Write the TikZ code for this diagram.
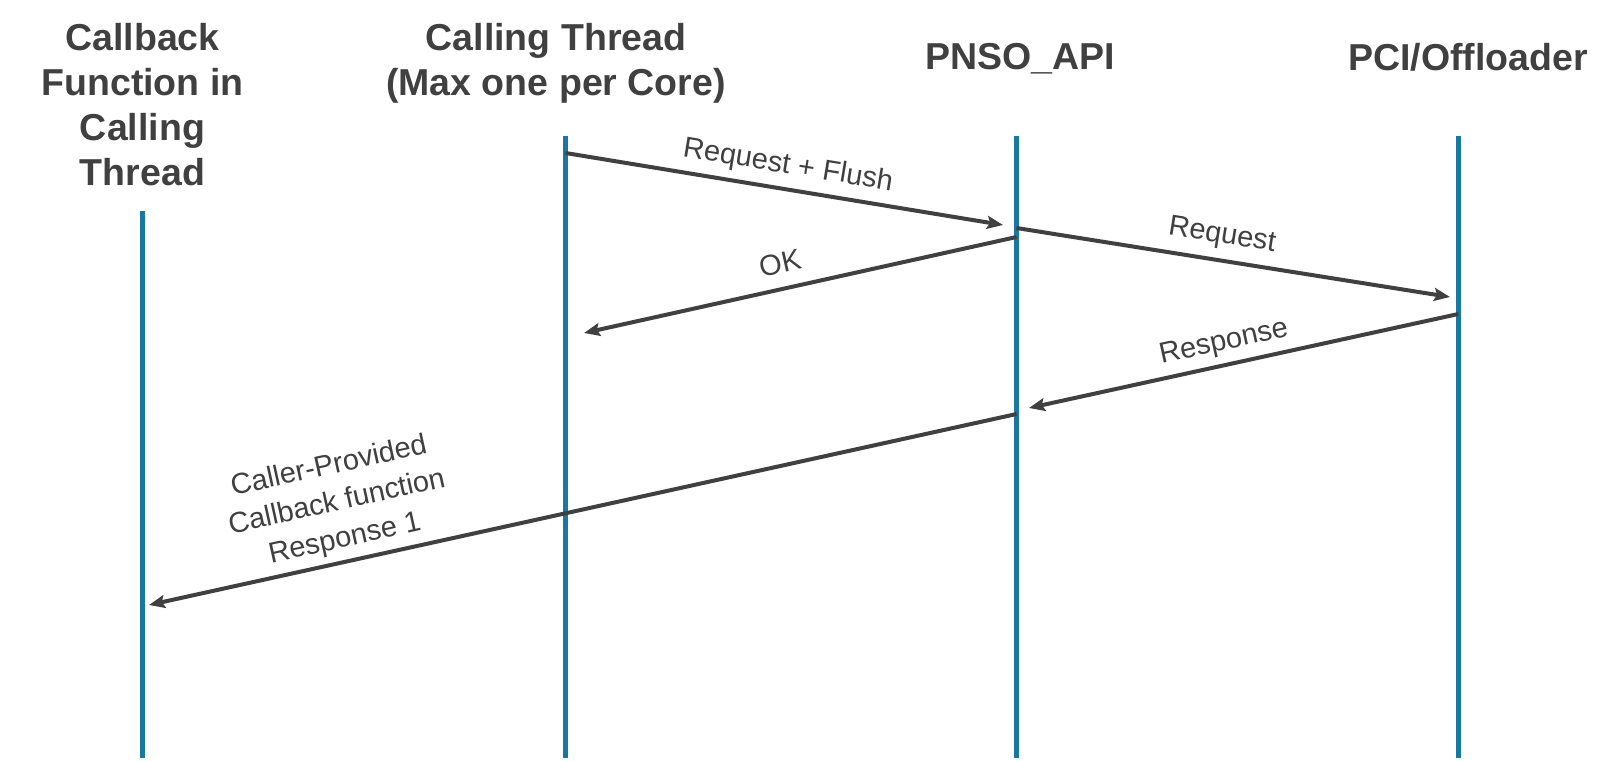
\documentclass[tikz,border=0pt]{standalone}
\usepackage{fontspec}
\setmainfont{Liberation Sans}
\usetikzlibrary{arrows.meta}
\definecolor{lifeblue}{HTML}{1A76A3}
\definecolor{inkgray}{HTML}{404040}
\begin{document}
\begin{tikzpicture}[x=1pt,y=-1pt,
  lifeline/.style={draw=lifeblue,line width=5pt},
  msg/.style={draw=inkgray,line width=4pt,-{Stealth[length=16pt,width=13pt,inset=3pt]}},
  hdr/.style={font=\bfseries\fontsize{37.5}{45}\selectfont,text=inkgray,align=center,anchor=north,inner sep=0pt},
  lbl/.style={font=\fontsize{29}{37}\selectfont,text=inkgray,align=center,inner sep=0pt}]
\useasboundingbox[fill=white] (0,0) rectangle (1624,760);

% headers
\node[hdr] (h1) at (142.5,23) {Callback\\Function in\\Calling\\Thread};
\node[hdr] (h2) at (556,23) {Calling Thread\\(Max one per Core)};
\node[hdr] (h3) at (1020,43) {PNSO\_API};
\node[hdr] (h4) at (1468,43) {PCI/Offloader};

% lifelines
\coordinate (l1t) at (142.7,211);  \coordinate (l1b) at (142.7,758);
\coordinate (l2t) at (565.5,136);  \coordinate (l2b) at (565.5,758);
\coordinate (l3t) at (1016.5,136); \coordinate (l3b) at (1016.5,758);
\coordinate (l4t) at (1458.3,136); \coordinate (l4b) at (1458.3,758);
\draw[lifeline] (l1t) -- (l1b);
\draw[lifeline] (l2t) -- (l2b);
\draw[lifeline] (l3t) -- (l3b);
\draw[lifeline] (l4t) -- (l4b);

% message end points
\coordinate (m1s) at (565.5,153);  \coordinate (m1e) at (1003,225);
\coordinate (m2s) at (1016.5,228); \coordinate (m2e) at (1450,297);
\coordinate (m3s) at (1016.5,237); \coordinate (m3e) at (584,333);
\coordinate (m4s) at (1458.3,314); \coordinate (m4e) at (1029,408);
\coordinate (m5s) at (1016.5,414); \coordinate (m5e) at (149,605);

\draw[msg] (m1s) -- (m1e);
\draw[msg] (m2s) -- (m2e);
\draw[msg] (m3s) -- (m3e);
\draw[msg] (m4s) -- (m4e);
\draw[msg] (m5s) -- (m5e);

% labels
\node[lbl,rotate=-9.37] (t1) at (788,166) {Request + Flush};
\node[lbl,rotate=-9.03] (t2) at (1222,236) {Request};
\node[lbl,rotate=12.54] (t3) at (780,263) {OK};
\node[lbl,rotate=12.39] (t4) at (1224,343) {Response};
\node[lbl,rotate=12.43] (t5) at (337,503) {Caller-Provided\\Callback function\\Response 1};
\end{tikzpicture}
\end{document}
